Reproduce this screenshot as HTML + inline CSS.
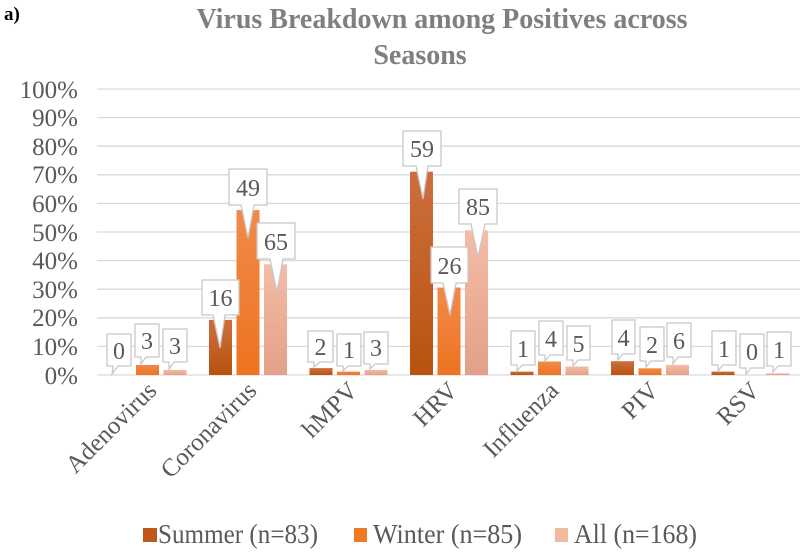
<!DOCTYPE html>
<html><head><meta charset="utf-8"><style>
body{margin:0;background:#fff;}
svg{display:block;font-family:"Liberation Serif",serif;}
.g{stroke:#d9d9d9;stroke-width:1.3}
.yl{font-size:25px;fill:#595959;text-anchor:end}
.xl{font-size:25px;fill:#595959;text-anchor:end}
.c{fill:#fff;stroke:#c8c8c8;stroke-width:1.3}
.ct{font-size:24px;fill:#595959;text-anchor:middle}
</style></head><body>
<svg width="805" height="559" viewBox="0 0 805 559">
<defs>
<linearGradient id="s" x1="0" y1="0" x2="0" y2="1"><stop offset="0" stop-color="#cd6f3d"/><stop offset="1" stop-color="#b8520f"/></linearGradient>
<linearGradient id="w" x1="0" y1="0" x2="0" y2="1"><stop offset="0" stop-color="#f08a4a"/><stop offset="1" stop-color="#ee7320"/></linearGradient>
<linearGradient id="a" x1="0" y1="0" x2="0" y2="1"><stop offset="0" stop-color="#f4bca6"/><stop offset="1" stop-color="#e4a088"/></linearGradient>
</defs>
<text x="4" y="20" font-size="19" font-weight="bold" fill="#000">a)</text>
<text x="442" y="28" font-size="28" font-weight="bold" fill="#7f7f7f" text-anchor="middle">Virus Breakdown among Positives across</text>
<text x="420" y="64" font-size="28" font-weight="bold" fill="#7f7f7f" text-anchor="middle">Seasons</text>
<g>
<line class="g" x1="97" x2="800" y1="89" y2="89"/><line class="g" x1="97" x2="800" y1="117.6" y2="117.6"/><line class="g" x1="97" x2="800" y1="146.2" y2="146.2"/><line class="g" x1="97" x2="800" y1="174.8" y2="174.8"/><line class="g" x1="97" x2="800" y1="203.4" y2="203.4"/><line class="g" x1="97" x2="800" y1="232" y2="232"/><line class="g" x1="97" x2="800" y1="260.6" y2="260.6"/><line class="g" x1="97" x2="800" y1="289.2" y2="289.2"/><line class="g" x1="97" x2="800" y1="317.8" y2="317.8"/><line class="g" x1="97" x2="800" y1="346.4" y2="346.4"/><line class="g" x1="97" x2="800" y1="375" y2="375"/>
</g>
<g class="yl">
<text x="78" y="98">100%</text><text x="78" y="126">90%</text><text x="78" y="155">80%</text><text x="78" y="183">70%</text><text x="78" y="212">60%</text><text x="78" y="241">50%</text><text x="78" y="269">40%</text><text x="78" y="298">30%</text><text x="78" y="326">20%</text><text x="78" y="355">10%</text><text x="78" y="384">0%</text>
</g>
<g>
<rect x="136" y="364.9" width="23" height="10.1" fill="url(#w)"/><rect x="163.5" y="369.9" width="23" height="5.1" fill="url(#a)"/>
<rect x="209" y="319.9" width="23" height="55.1" fill="url(#s)"/><rect x="236.5" y="210.1" width="23" height="164.9" fill="url(#w)"/><rect x="264" y="264.3" width="23" height="110.7" fill="url(#a)"/>
<rect x="309.5" y="368.1" width="23" height="6.9" fill="url(#s)"/><rect x="337" y="371.6" width="23" height="3.4" fill="url(#w)"/><rect x="364.5" y="369.9" width="23" height="5.1" fill="url(#a)"/>
<rect x="410" y="171.7" width="23" height="203.3" fill="url(#s)"/><rect x="437.5" y="287.5" width="23" height="87.5" fill="url(#w)"/><rect x="465" y="230.3" width="23" height="144.7" fill="url(#a)"/>
<rect x="510.5" y="371.6" width="23" height="3.4" fill="url(#s)"/><rect x="538" y="361.5" width="23" height="13.5" fill="url(#w)"/><rect x="565.5" y="366.5" width="23" height="8.5" fill="url(#a)"/>
<rect x="611" y="361.2" width="23" height="13.8" fill="url(#s)"/><rect x="638.5" y="368.3" width="23" height="6.7" fill="url(#w)"/><rect x="666" y="364.8" width="23" height="10.2" fill="url(#a)"/>
<rect x="711.5" y="371.6" width="23" height="3.4" fill="url(#s)"/><rect x="766.5" y="373.3" width="23" height="1.7" fill="url(#a)"/>
</g>
<g>
<path class="c" d="M107,334H131V366H118L112,374L113,366H107Z"/><text class="ct" x="119" y="359">0</text>
<path class="c" d="M135,324H159V357H146L141,364L141,357H135Z"/><text class="ct" x="147" y="349">3</text>
<path class="c" d="M163,329H187V362H174L169,369L169,362H163Z"/><text class="ct" x="175" y="354">3</text>
<path class="c" d="M202,280H239V315H225L220,348L213,315H202Z"/><text class="ct" x="220.5" y="306">16</text>
<path class="c" d="M229,169H267V205H254L248,238L241,205H229Z"/><text class="ct" x="248" y="196">49</text>
<path class="c" d="M257,223H295V259H283L277,292L270,259H257Z"/><text class="ct" x="276" y="250">65</text>
<path class="c" d="M308,331H333V362H320L314,367L314,362H308Z"/><text class="ct" x="320.5" y="355">2</text>
<path class="c" d="M337,334H361V366H348L343,371L343,366H337Z"/><text class="ct" x="349" y="358">1</text>
<path class="c" d="M364,332H388V364H375L370,369L370,364H364Z"/><text class="ct" x="376" y="356">3</text>
<path class="c" d="M403,131H441V166H428L423,199L416,166H403Z"/><text class="ct" x="422" y="157">59</text>
<path class="c" d="M431,247H468V283H456L450,315L443,283H431Z"/><text class="ct" x="449.5" y="274">26</text>
<path class="c" d="M459,189H497V224H485L478,257L471,224H459Z"/><text class="ct" x="478" y="215">85</text>
<path class="c" d="M511,331H535V365H522L517,371L517,365H511Z"/><text class="ct" x="523" y="357">1</text>
<path class="c" d="M539,321H563V355H550L545,361L545,355H539Z"/><text class="ct" x="551" y="347">4</text>
<path class="c" d="M567,326H590V360H578L573,366L573,360H567Z"/><text class="ct" x="578.5" y="352">5</text>
<path class="c" d="M612,320H635V354H623L618,360L618,354H612Z"/><text class="ct" x="623.5" y="346">4</text>
<path class="c" d="M640,327H664V361H651L646,367L646,361H640Z"/><text class="ct" x="652" y="353">2</text>
<path class="c" d="M667,323H691V357H678L673,364L673,357H667Z"/><text class="ct" x="679" y="349">6</text>
<path class="c" d="M712,331H736V365H723L718,371L718,365H712Z"/><text class="ct" x="724" y="357">1</text>
<path class="c" d="M740,334H764V368H751L746,374L746,368H740Z"/><text class="ct" x="752" y="360">0</text>
<path class="c" d="M767,332H791V366H778L773,372L773,366H767Z"/><text class="ct" x="779" y="358">1</text>
</g>
<g class="xl">
<text transform="translate(158,392) rotate(-45)">Adenovirus</text>
<text transform="translate(258,392) rotate(-45)">Coronavirus</text>
<text transform="translate(359,392) rotate(-45)">hMPV</text>
<text transform="translate(459,392) rotate(-45)">HRV</text>
<text transform="translate(560,392) rotate(-45)">Influenza</text>
<text transform="translate(660,392) rotate(-45)">PIV</text>
<text transform="translate(761,392) rotate(-45)">RSV</text>
</g>
<g font-size="27" fill="#595959">
<rect x="143" y="528" width="14" height="14" fill="#c0561a"/><text x="158" y="543" textLength="160" lengthAdjust="spacingAndGlyphs">Summer (n=83)</text>
<rect x="354" y="528" width="13" height="14" fill="#ef7a24"/><text x="373" y="543" textLength="149" lengthAdjust="spacingAndGlyphs">Winter (n=85)</text>
<rect x="555" y="528" width="13" height="14" fill="#f2b8a0"/><text x="574" y="543" textLength="123" lengthAdjust="spacingAndGlyphs">All (n=168)</text>
</g>
</svg>
</body></html>
